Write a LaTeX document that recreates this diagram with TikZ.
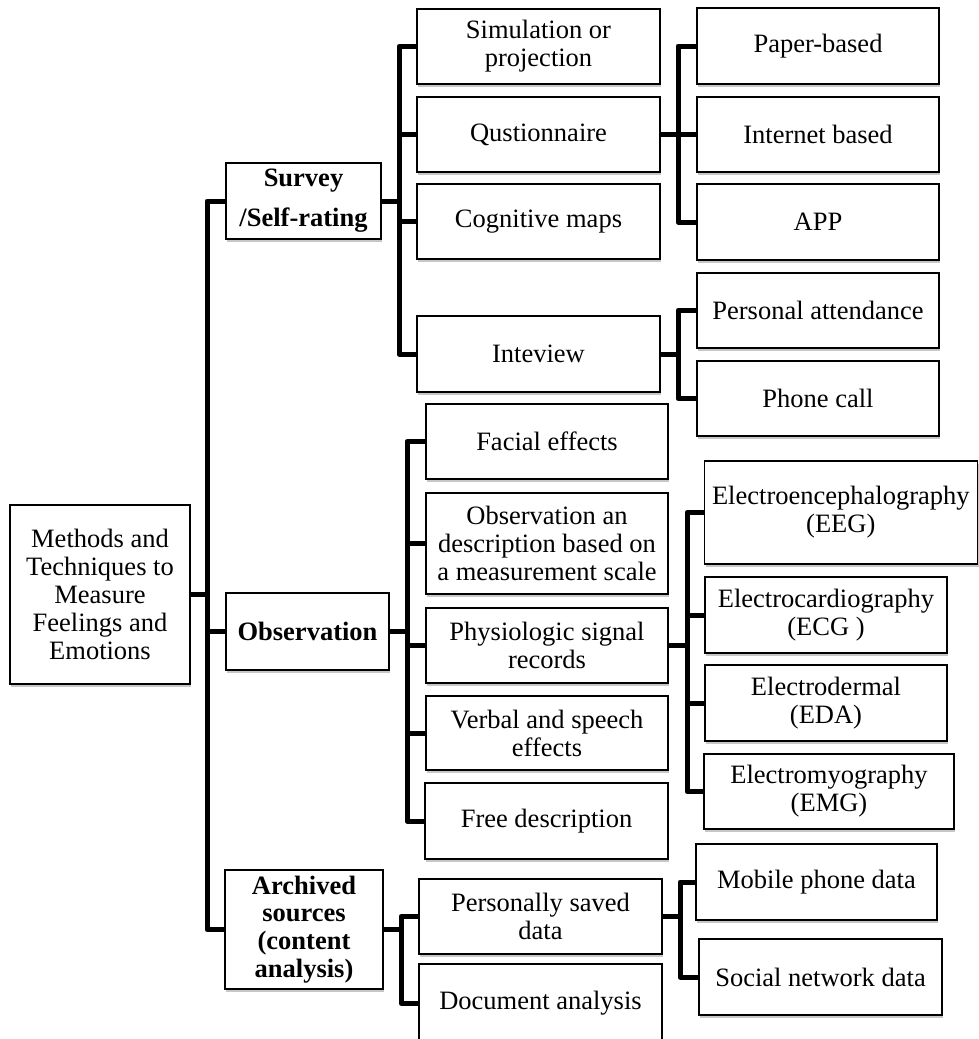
\documentclass[tikz,border=0pt]{standalone}
\usepackage{fontspec}
\setmainfont{Liberation Serif}
\usetikzlibrary{shadows}
\tikzset{
  box/.style={draw=black, line width=1.3pt, fill=white, rectangle, inner sep=0pt, align=center,
    font=\fontsize{26.5}{28}\selectfont,
    drop shadow={shadow xshift=1.2pt, shadow yshift=-2.5pt, fill=black, opacity=0.22}},
  bbox/.style={box, font=\fontsize{26.5}{28}\selectfont\bfseries},
  conn/.style={draw=black, line width=5pt, line join=round, line cap=butt},
}
\begin{document}
\begin{tikzpicture}[x=1pt, y=-1pt]
\useasboundingbox (0,0) rectangle (979,1039);
% level 0
\node[box, minimum width=180pt, minimum height=179pt] (methods) at (100,594.5) {Methods and\\Techniques to\\Measure\\Feelings and\\Emotions};
% level 1
\node[bbox, minimum width=155pt, minimum height=76pt, font=\fontsize{26.5}{40}\selectfont\bfseries] (survey) at (303.5,201) {Survey\\/Self-rating};
\node[bbox, minimum width=163pt, minimum height=77pt] (observation) at (307.5,631.5) {Observation};
\node[bbox, minimum width=158pt, minimum height=119pt, font=\fontsize{26.5}{27.7}\selectfont\bfseries] (archived) at (304,929.5) {Archived\\sources\\(content\\analysis)};
% survey children
\node[box, minimum width=243pt, minimum height=75pt] (sim) at (538.5,46.5) {Simulation or\\projection};
\node[box, minimum width=243pt, minimum height=75pt] (quest) at (538.5,134.5) {Qustionnaire};
\node[box, minimum width=243pt, minimum height=75pt] (cog) at (538.5,221.5) {Cognitive maps};
\node[box, minimum width=243pt, minimum height=76pt] (intv) at (538.5,354) {Inteview};
% questionnaire children
\node[box, minimum width=242pt, minimum height=76pt] (paper) at (818,46) {Paper-based};
\node[box, minimum width=242pt, minimum height=75pt] (internet) at (818,134.5) {Internet based};
\node[box, minimum width=242pt, minimum height=76pt] (app) at (818,222) {APP};
% interview children
\node[box, minimum width=242pt, minimum height=75pt] (pa) at (818,310.5) {Personal attendance};
\node[box, minimum width=242pt, minimum height=75pt] (phone) at (818,398.5) {Phone call};
% observation children
\node[box, minimum width=242pt, minimum height=75pt] (facial) at (547,441.5) {Facial effects};
\node[box, minimum width=242pt, minimum height=101pt] (obsdesc) at (547,543.5) {Observation an\\description based on\\a measurement scale};
\node[box, minimum width=242pt, minimum height=75pt] (physio) at (547,645.5) {Physiologic signal\\records};
\node[box, minimum width=242pt, minimum height=74pt] (verbal) at (547,733) {Verbal and speech\\effects};
\node[box, minimum width=243pt, minimum height=76pt] (free) at (546.5,821) {Free description};
% physiologic children
\node[box, minimum width=273pt, minimum height=103pt] (eeg) at (840.8,512.5) {Electroencephalography\\(EEG)};
\node[box, minimum width=242pt, minimum height=76pt] (ecg) at (826,615) {Electrocardiography\\(ECG )};
\node[box, minimum width=242pt, minimum height=76pt] (eda) at (826,703) {Electrodermal\\(EDA)};
\node[box, minimum width=250pt, minimum height=75pt] (emg) at (829,791.5) {Electromyography\\(EMG)};
% archived children
\node[box, minimum width=243pt, minimum height=75pt] (personal) at (540.5,916.5) {Personally saved\\data};
\node[box, minimum width=243pt, minimum height=78pt] (doc) at (540.5,1003) {Document analysis};
% personally saved children
\node[box, minimum width=241pt, minimum height=76pt] (mobile) at (816.5,882) {Mobile phone data};
\node[box, minimum width=243pt, minimum height=76pt] (social) at (820.5,977) {Social network data};
% bus coordinates
\coordinate (b1) at (207,0);
\coordinate (b2) at (399,0);
\coordinate (b3) at (678,0);
\coordinate (b4) at (407,0);
\coordinate (b5) at (687,0);
\coordinate (b6) at (401,0);
\coordinate (b7) at (680,0);
% connectors
\draw[conn] (survey.west) -- (survey.west -| b1) |- (archived.west);
\draw[conn] (methods.east) -- (methods.east -| b1);
\draw[conn] (observation.west) -- (observation.west -| b1);

\draw[conn] (sim.west) -- (sim.west -| b2) |- (intv.west);
\draw[conn] (survey.east) -- (survey.east -| b2);
\draw[conn] (quest.west) -- (quest.west -| b2);
\draw[conn] (cog.west) -- (cog.west -| b2);

\draw[conn] (paper.west) -- (paper.west -| b3) |- (app.west);
\draw[conn] (quest.east) -- (internet.west);

\draw[conn] (pa.west) -- (pa.west -| b3) |- (phone.west);
\draw[conn] (intv.east) -- (intv.east -| b3);

\draw[conn] (facial.west) -- (facial.west -| b4) |- (free.west);
\draw[conn] (observation.east) -- (observation.east -| b4);
\draw[conn] (obsdesc.west) -- (obsdesc.west -| b4);
\draw[conn] (physio.west) -- (physio.west -| b4);
\draw[conn] (verbal.west) -- (verbal.west -| b4);

\draw[conn] (eeg.west) -- (eeg.west -| b5) |- (emg.west);
\draw[conn] (physio.east) -- (physio.east -| b5);
\draw[conn] (ecg.west) -- (ecg.west -| b5);
\draw[conn] (eda.west) -- (eda.west -| b5);

\draw[conn] (personal.west) -- (personal.west -| b6) |- (doc.west);
\draw[conn] (archived.east) -- (archived.east -| b6);

\draw[conn] (mobile.west) -- (mobile.west -| b7) |- (social.west);
\draw[conn] (personal.east) -- (personal.east -| b7);
\end{tikzpicture}
\end{document}
